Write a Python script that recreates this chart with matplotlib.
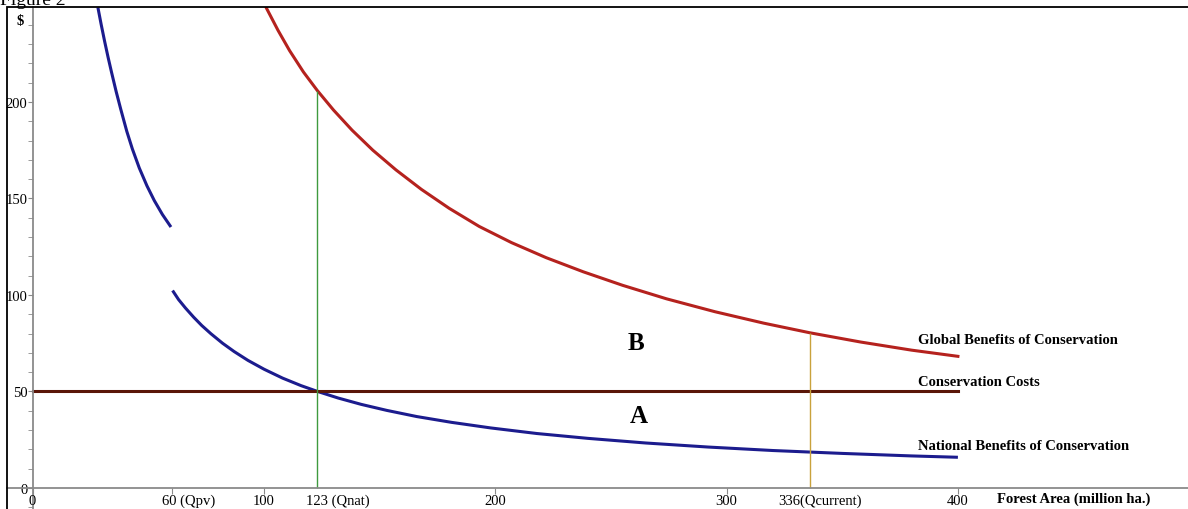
import matplotlib
matplotlib.use('Agg')
import matplotlib.pyplot as plt
from matplotlib.patches import Rectangle
from matplotlib.ticker import MultipleLocator

plt.rcParams['font.family'] = ['Liberation Serif', 'DejaVu Serif']

# values
blue_upper_x = [28.1, 29.5, 31, 32.5, 34, 36, 38, 40.6, 43, 46, 49.3, 52.5, 56, 59.7]
blue_upper_y = [249, 240.3, 231.5, 223.2, 215.4, 205.4, 196.2, 184.8, 175.7, 165.8,
                156.6, 148.9, 141.7, 135.2]

blue_lower_x = [60.4, 63, 66, 69.5, 73, 77, 82, 87, 93, 100, 108, 116, 123.1, 132,
                142, 153, 166, 181, 198, 218, 240, 265, 292, 320, 350, 380, 400]
blue_lower_y = [102.3, 97.6, 93.2, 88.5, 84.2, 79.9, 75, 70.7, 66.1, 61.5, 56.9, 53,
                50, 46.6, 43.3, 40.2, 37, 34, 31.1, 28.2, 25.7, 23.3, 21.2, 19.4,
                17.9, 16.6, 15.9]

red_x = [101, 106, 111, 117, 123, 130, 138, 147, 157, 168, 180, 193, 207, 222, 238,
         255, 274, 295, 316, 336, 358, 380, 400]
red_y = [248.6, 237.1, 226.6, 215.5, 205.9, 195.8, 185.4, 175.0, 164.8, 154.7, 144.9,
         135.5, 127.1, 119.3, 112.0, 105.0, 98.0, 91.3, 85.4, 80.4, 75.6, 71.4, 68.2]

cost_x = [0, 400]
cost_y = [50, 50]

q_nat, q_nat_top = 123, 205.9
q_cur, q_cur_top = 336, 80.4

xtick_pos = [0, 60, 100, 123, 200, 300, 336, 400]
xtick_lab = ['0', '60 (Qpv)', '100', '123 (Qnat)', '200', '300', '336(Qcurrent)', '400']
xtick_shift = [3, 7, 8, 8, 8, 8, 23, 8]   # points left of tick where the label starts

fig = plt.figure(figsize=(11.88, 5.10), dpi=100)
ax = fig.add_axes([7 / 1188, 0, 1 - 7 / 1188, 502 / 510])
ax.set_xlim(-11.2, 499.5)
ax.set_ylim(-10.9, 249.2)

# frame
fig.patches.append(Rectangle((7 / 1188, -0.1), 2, 502 / 510 + 0.1,
                             transform=fig.transFigure, fill=False,
                             edgecolor='black', linewidth=1.3))
fig.text(0.0, 1 - 5 / 510, 'Figure 2', fontsize=14, va='baseline', ha='left')

for s in ['top', 'right']:
    ax.spines[s].set_visible(False)
for s in ['left', 'bottom']:
    ax.spines[s].set_position(('data', 0))
    ax.spines[s].set_color('#8a8a8a')
    ax.spines[s].set_linewidth(1.3)

ax.set_yticks([0, 50, 100, 150, 200])
ax.yaxis.set_minor_locator(MultipleLocator(10))
ax.tick_params(axis='y', which='major', direction='out', length=3.5, color='#8a8a8a',
               labelsize=10.5, pad=0.5)
ax.tick_params(axis='y', which='minor', direction='out', length=3.5, color='#8a8a8a')

ax.set_xticks([0, 60, 100, 200, 300, 400])
ax.set_xticklabels([])
ax.tick_params(axis='x', direction='out', length=4, color='#8a8a8a')

for pos, lab, sh in zip(xtick_pos, xtick_lab, xtick_shift):
    ax.annotate(lab, xy=(pos, 0), xytext=(-sh, -4), textcoords='offset points',
                ha='left', va='top', fontsize=10.5)

ax.plot(blue_upper_x, blue_upper_y, color='#1c1c8e', lw=2.2, solid_capstyle='butt')
ax.plot(blue_lower_x, blue_lower_y, color='#1c1c8e', lw=2.2, solid_capstyle='butt')
ax.plot(red_x, red_y, color='#b5221e', lw=2.2)
ax.plot(cost_x, cost_y, color='#5a1608', lw=2.2)

ax.vlines(q_nat, 0, q_nat_top, color='#3f9a3f', lw=1.0)
ax.vlines(q_cur, 0, q_cur_top, color='#c9a23c', lw=1.0)

lab_kw = dict(fontsize=10.5, fontweight='bold', va='center', ha='left')
ax.text(382.7, 77, 'Global Benefits of Conservation', **lab_kw)
ax.text(382.7, 55, 'Conservation Costs', **lab_kw)
ax.text(382.7, 22, 'National Benefits of Conservation', **lab_kw)
ax.text(416.7, -5.2, 'Forest Area (million ha.)', **lab_kw)
ax.text(261, 75.6, 'B', fontsize=18, fontweight='bold', ha='center', va='center')
ax.text(261.8, 37.4, 'A', fontsize=18, fontweight='bold', ha='center', va='center')
ax.text(-5.6, 242, '$', fontsize=10.5, fontweight='bold', ha='center', va='center')

fig.savefig('out.png', dpi=100)
